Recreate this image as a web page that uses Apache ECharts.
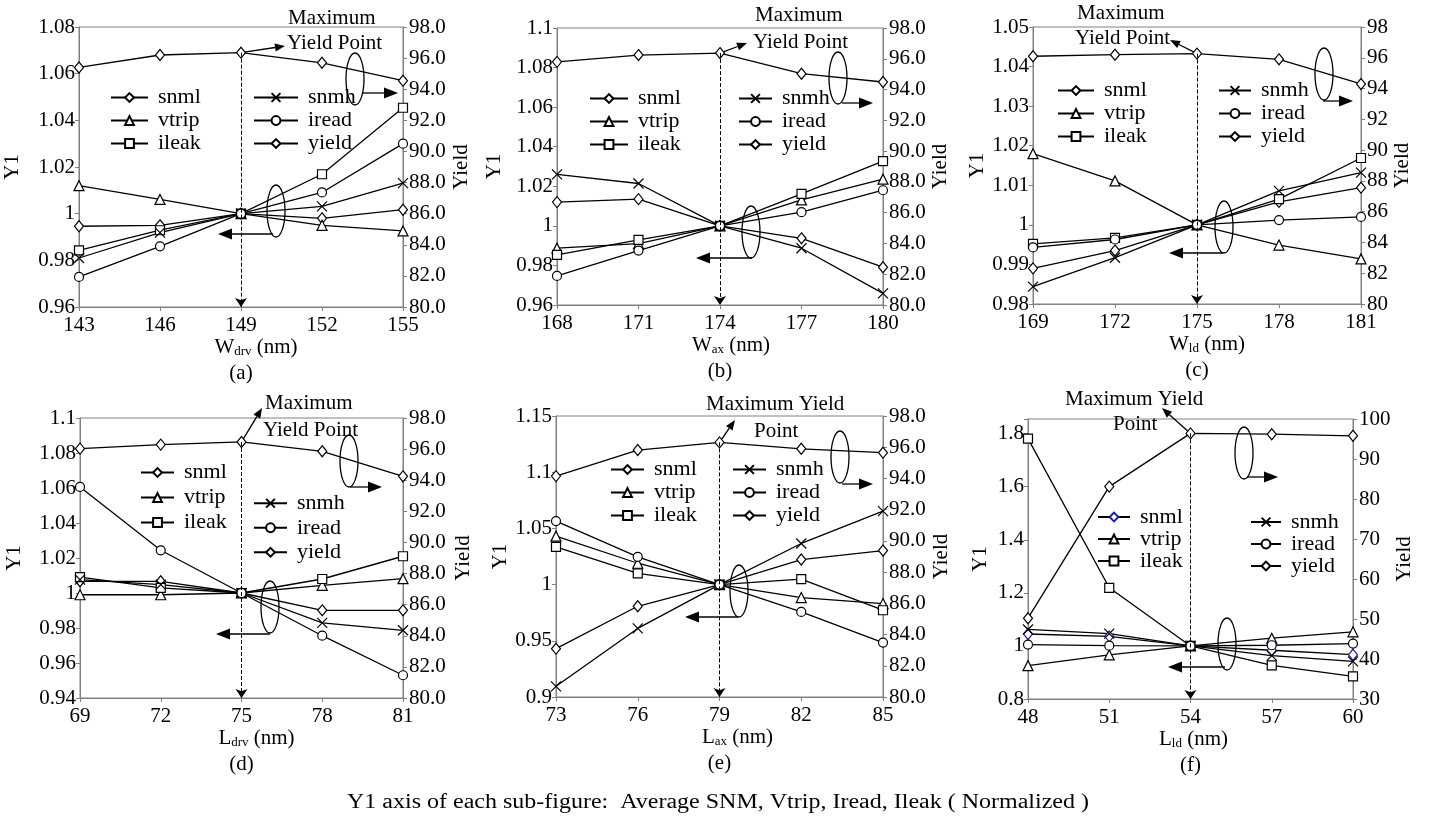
<!DOCTYPE html>
<html>
<head>
<meta charset="utf-8">
<script src="https://cdn.jsdelivr.net/npm/echarts@6/dist/echarts.min.js"></script>
<style>
  html, body { margin: 0; padding: 0; background: #fff; }
  #main { width: 1431px; height: 818px; }
</style>
</head>
<body>
<div id="main"></div>
<script>
// ---- data ----
// (a) W_drv
const xA = [143, 146, 149, 152, 155];
const snmlA = [0.9946, 0.995, 1, 0.998, 1.0017];
const vtripA = [1.012, 1.0061, 1, 0.995, 0.9926];
const ileakA = [0.9843, 0.9929, 1, 1.0169, 1.0454];
const snmhA = [0.981, 0.9919, 1, 1.0031, 1.0131];
const ireadA = [0.9729, 0.986, 1, 1.0091, 1.03];
const yieldA = [95.4, 96.2, 96.35, 95.7, 94.55];
// (b) W_ax
const xB = [168, 171, 174, 177, 180];
const snmlB = [1.012, 1.0135, 1, 0.9937, 0.9791];
const vtripB = [0.9887, 0.991, 1, 1.0131, 1.0236];
const ileakB = [0.9853, 0.9929, 1, 1.0162, 1.0327];
const snmhB = [1.026, 1.0214, 1, 0.9887, 0.9659];
const ireadB = [0.9747, 0.9875, 1, 1.0069, 1.018];
const yieldB = [95.8, 96.24, 96.37, 95.03, 94.49];
// (c) W_ld
const xC = [169, 172, 175, 178, 181];
const snmlC = [0.989, 0.9935, 1, 1.0058, 1.0094];
const vtripC = [1.018, 1.0111, 1, 0.9949, 0.9914];
const ileakC = [0.9952, 0.9967, 1, 1.0065, 1.0169];
const snmhC = [0.9844, 0.9917, 1, 1.0086, 1.0132];
const ireadC = [0.9943, 0.9963, 1, 1.0012, 1.002];
const yieldC = [96.1, 96.2, 96.27, 95.9, 94.3];
// (d) L_drv
const xD = [69, 72, 75, 78, 81];
const snmlD = [1.0067, 1.0067, 1, 0.9901, 0.9901];
const vtripD = [0.999, 0.999, 1, 1.0044, 1.0082];
const ileakD = [1.0091, 1.0029, 1, 1.008, 1.021];
const snmhD = [1.0076, 1.0048, 1, 0.9829, 0.9787];
const ireadD = [1.0606, 1.0244, 1, 0.9756, 0.953];
const yieldD = [96.03, 96.29, 96.46, 95.86, 94.25];
// (e) L_ax
const xE = [73, 76, 79, 82, 85];
const snmlE = [0.943, 0.9807, 1, 1.0223, 1.0303];
const vtripE = [1.0431, 1.019, 1, 0.9885, 0.9831];
const ileakE = [1.0336, 1.01, 1, 1.0048, 0.9772];
const snmhE = [0.9095, 0.961, 1, 1.0366, 1.0654];
const ireadE = [1.0565, 1.0247, 1, 0.9757, 0.9484];
const yieldE = [94.15, 95.82, 96.31, 95.9, 95.65];
// (f) L_ld
const xF = [48, 51, 54, 57, 60];
const snmlF = [1.045, 1.036, 1, 0.9836, 0.967];
const vtripF = [0.9258, 0.966, 1, 1.029, 1.053];
const ileakF = [1.781, 1.219, 1, 0.927, 0.8855];
const snmhF = [1.062, 1.0465, 1, 0.9635, 0.942];
const ireadF = [1.005, 1.001, 1, 1.0025, 1.009];
const yieldF = [50.2, 83.1, 96.4, 96.2, 95.8];

// axis scales: [min, max, interval]
const y1Range = [[0.96, 1.08, 0.02], [0.96, 1.1, 0.02], [0.98, 1.05, 0.01],
                 [0.94, 1.1, 0.02], [0.9, 1.15, 0.05], [0.8, 1.855, 0.2]];
const yieldRange = [[80, 98, 2], [80, 98, 2], [80, 98, 2], [80, 98, 2], [80, 98, 2], [30, 100, 10]];
const yieldDecimals = [1, 1, 0, 1, 1, 0];
const xMain = ['W', 'W', 'W', 'L', 'L', 'L'];
const xSub = ['drv', 'ax', 'ld', 'drv', 'ax', 'ld'];
const tags = ['(a)', '(b)', '(c)', '(d)', '(e)', '(f)'];
const seriesNames = ['snml', 'vtrip', 'ileak', 'snmh', 'iread', 'yield'];

const xVals = [xA, xB, xC, xD, xE, xF];
const panelData = [
    [snmlA, vtripA, ileakA, snmhA, ireadA, yieldA],
    [snmlB, vtripB, ileakB, snmhB, ireadB, yieldB],
    [snmlC, vtripC, ileakC, snmhC, ireadC, yieldC],
    [snmlD, vtripD, ileakD, snmhD, ireadD, yieldD],
    [snmlE, vtripE, ileakE, snmhE, ireadE, yieldE],
    [snmlF, vtripF, ileakF, snmhF, ireadF, yieldF]
];

const FONT = '"Liberation Serif", "DejaVu Serif", serif';
const CROSS = 'path://M0 0L10 10M10 0L0 10';
const BLUE = '#1c1c9c';

// marker look of each series
const marks = {
    snml: {symbol: 'diamond', size: [9, 11]},
    vtrip: {symbol: 'triangle', size: 10},
    ileak: {symbol: 'rect', size: 9},
    snmh: {symbol: CROSS, size: 10},
    iread: {symbol: 'circle', size: 9},
    yield: {symbol: 'diamond', size: [9, 11]}
};

// layout of every panel: grid [left, top, width, height], legends, axis name gaps,
// annotations (offsets from grid origin)
const layout = [
    {grid: [79, 27, 324, 280], nameShift: 30, gapL: 56, gapR: 48,
     legL: [110, 86, 37, 23], legR: [253, 86, 44, 23],
     texts: [['Maximum', 209, -9], ['Yield Point', 208, 16]], tip: [206, 19],
     ellR: [276, 52], arrR: [[283, 66], [319, 66]], ellL: [197, 184], arrL: [[194, 207], [139, 207]]},
    {grid: [557, 28, 326, 277], nameShift: 22, gapL: 52, gapR: 44,
     legL: [589, 87, 38, 23], legR: [738, 87, 33, 23],
     texts: [['Maximum', 198, -13], ['Yield Point', 196, 14]], tip: [190, 15],
     ellR: [281, 50], arrR: [[285, 75], [316, 75]], ellL: [194, 204], arrL: [[195, 230], [139, 230]]},
    {grid: [1033, 27, 328, 277], nameShift: 20, gapL: 44, gapR: 31,
     legL: [1057, 79, 36, 23], legR: [1218, 79, 32, 23],
     texts: [['Maximum', 44, -14], ['Yield Point', 42, 11]], tip: [137, 13],
     ellR: [291, 47], arrR: [[290, 74], [320, 74]], ellL: [191, 200], arrL: [[190, 226], [136, 226]]},
    {grid: [80, 418, 323, 280], nameShift: 30, gapL: 55, gapR: 50,
     legL: [140, 460, 33, 25], legR: [253, 491, 33, 24.5],
     texts: [['Maximum', 185, -15], ['Yield Point', 183, 12]], tip: [182, -10],
     ellR: [269, 43], arrR: [[270, 69], [302, 69]], ellL: [190, 189], arrL: [[190, 216], [136, 216]]},
    {grid: [556, 416, 327, 281], nameShift: 36, gapL: 41, gapR: 48,
     legL: [610, 458, 33, 23], legR: [732, 458, 33, 23],
     texts: [['Maximum Yield', 150, -12], ['Point', 198, 15]], tip: [179, 4],
     ellR: [284, 41], arrR: [[286, 68], [317, 68]], ellL: [183, 175], arrL: [[182, 201], [129, 201]]},
    {grid: [1028, 419, 325, 280], nameShift: 6, gapL: 37, gapR: 36,
     legL: [1097, 506, 32, 21], legR: [1250, 511, 30, 21],
     texts: [['Maximum Yield', 37, -20], ['Point', 85, 5]], tip: [134, -11],
     ellR: [216, 34], arrR: [[219, 58], [250, 58]], ellL: [199, 225], arrL: [[197, 248], [140, 248]]}
];

const grids = [], xAxes = [], yAxes = [], series = [], legends = [];
const axisLine = {lineStyle: {color: '#808080', width: 1}};
const axisTick = {length: 4, lineStyle: {color: '#808080', width: 1}};

layout.forEach(function (L, i) {
    grids.push({left: L.grid[0], top: L.grid[1], width: L.grid[2], height: L.grid[3],
        show: true, borderColor: '#808080', borderWidth: 1});
    const xs = xVals[i];
    xAxes.push({
        type: 'value', gridIndex: i, min: xs[0], max: xs[xs.length - 1], interval: 3,
        axisLine: axisLine, axisTick: axisTick, splitLine: {show: false},
        axisLabel: {color: '#000', fontSize: 21, fontFamily: FONT, margin: 8},
        name: '{m|' + xMain[i] + '}{s|' + xSub[i] + '}{m| (nm)}',
        nameLocation: 'middle', nameGap: 29,
        nameTextStyle: {padding: [0, 0, 0, L.nameShift], rich: {
            m: {fontSize: 21, fontFamily: FONT, color: '#000'},
            s: {fontSize: 13, fontFamily: FONT, color: '#000', verticalAlign: 'bottom'}
        }}
    });
    const r1 = y1Range[i], r2 = yieldRange[i], dec = yieldDecimals[i];
    yAxes.push({
        type: 'value', gridIndex: i, position: 'left', min: r1[0], max: r1[1], interval: r1[2],
        axisLine: Object.assign({show: true}, axisLine), axisTick: axisTick, splitLine: {show: false},
        axisLabel: {color: '#000', fontSize: 21, fontFamily: FONT, margin: 4,
            formatter: function (v) {
                const k = Math.round((v - r1[0]) / r1[2]);
                if (Math.abs(r1[0] + k * r1[2] - v) > 1e-6) return '';
                return String(+v.toFixed(3));
            }},
        name: 'Y1', nameLocation: 'middle', nameGap: L.gapL,
        nameTextStyle: {fontSize: 21, fontFamily: FONT, color: '#000'}
    });
    yAxes.push({
        type: 'value', gridIndex: i, position: 'right', min: r2[0], max: r2[1], interval: r2[2],
        axisLine: Object.assign({show: true}, axisLine), axisTick: axisTick, splitLine: {show: false},
        axisLabel: {color: '#000', fontSize: 21, fontFamily: FONT, margin: 6,
            formatter: function (v) { return v.toFixed(dec); }},
        name: 'Yield', nameLocation: 'middle', nameGap: L.gapR,
        nameTextStyle: {fontSize: 21, fontFamily: FONT, color: '#000'}
    });

    panelData[i].forEach(function (vals, j) {
        const name = seriesNames[j];
        const isYield = name === 'yield';
        const s = {
            type: 'line', name: name, xAxisIndex: i, yAxisIndex: isYield ? 2 * i + 1 : 2 * i,
            data: xs.map(function (x, k) { return [x, vals[k]]; }),
            symbol: marks[name].symbol, symbolSize: marks[name].size, showAllSymbol: true,
            lineStyle: {color: '#000', width: 1.3},
            itemStyle: {color: '#fff', borderColor: (i === 5 && name === 'snml') ? BLUE : '#000', borderWidth: 1.2},
            emphasis: {disabled: true}, silent: true
        };
        if (isYield) {
            const k = vals.indexOf(Math.max.apply(null, vals));
            s.markLine = {
                silent: true, symbol: ['none', 'arrow'], symbolSize: 9,
                lineStyle: {type: 'dashed', color: '#000', width: 1},
                label: {show: false},
                data: [[{coord: [xs[k], vals[k]]}, {coord: [xs[k], r2[0]]}]]
            };
        }
        series.push(s);
    });

    const legText = function (pitch) {
        return {fontSize: 22, fontFamily: FONT, color: '#000', lineHeight: pitch, padding: [0, 0, 0, 5]};
    };
    const leftData = ['snml', 'vtrip', 'ileak'];
    if (i === 5) leftData[0] = {name: 'snml', itemStyle: {borderColor: BLUE}};
    legends.push({orient: 'vertical', left: L.legL[0], top: L.legL[1], itemWidth: L.legL[2], itemHeight: 11,
        itemGap: 0, padding: 0, selectedMode: false, data: leftData, textStyle: legText(L.legL[3])});
    legends.push({orient: 'vertical', left: L.legR[0], top: L.legR[1], itemWidth: L.legR[2], itemHeight: 11,
        itemGap: 0, padding: 0, selectedMode: false, data: ['snmh', 'iread', 'yield'], textStyle: legText(L.legR[3])});
});

const chart = echarts.init(document.getElementById('main'));
chart.setOption({
    animation: false,
    backgroundColor: '#fff',
    grid: grids,
    xAxis: xAxes,
    yAxis: yAxes,
    legend: legends,
    series: series
});

// annotations: ellipses, arrows, texts
function arrow(g, x1, y1, x2, y2, len, wid) {
    const a = Math.atan2(y2 - y1, x2 - x1);
    const bx = x2 - len * Math.cos(a), by = y2 - len * Math.sin(a);
    const nx = -Math.sin(a) * wid / 2, ny = Math.cos(a) * wid / 2;
    g.push({type: 'line', silent: true, shape: {x1: x1, y1: y1, x2: bx, y2: by},
        style: {stroke: '#000', lineWidth: 1.3}});
    g.push({type: 'polygon', silent: true, shape: {points: [[x2, y2], [bx + nx, by + ny], [bx - nx, by - ny]]},
        style: {fill: '#000'}});
}
function ellipse(g, cx, cy) {
    g.push({type: 'ellipse', silent: true, shape: {cx: cx, cy: cy, rx: 9, ry: 26},
        style: {fill: 'none', stroke: '#000', lineWidth: 1.3}});
}
function label(g, text, x, y, size, align, sx) {
    g.push({type: 'text', silent: true, x: x, y: y, scaleX: sx || 1,
        style: {text: text, font: size + 'px ' + FONT, fill: '#000', textAlign: align, textVerticalAlign: 'middle'}});
}

const g = [];
layout.forEach(function (L, i) {
    const ox = L.grid[0], oy = L.grid[1];
    const ys = panelData[i][5];
    const k = ys.indexOf(Math.max.apply(null, ys));
    const p = chart.convertToPixel({xAxisIndex: i, yAxisIndex: 2 * i + 1}, [xVals[i][k], ys[k]]);
    arrow(g, p[0], p[1], ox + L.tip[0], oy + L.tip[1], 10, 8);
    L.texts.forEach(function (t) { label(g, t[0], ox + t[1], oy + t[2], 21, 'left'); });
    ellipse(g, ox + L.ellR[0], oy + L.ellR[1]);
    arrow(g, ox + L.arrR[0][0], oy + L.arrR[0][1], ox + L.arrR[1][0], oy + L.arrR[1][1], 14, 11);
    ellipse(g, ox + L.ellL[0], oy + L.ellL[1]);
    arrow(g, ox + L.arrL[0][0], oy + L.arrL[0][1], ox + L.arrL[1][0], oy + L.arrL[1][1], 14, 11);
    label(g, tags[i], ox + L.grid[2] / 2, oy + L.grid[3] + 66, 21, 'center');
});
label(g, 'Y1 axis of each sub-figure:  Average SNM, Vtrip, Iread, Ileak ( Normalized )', 718, 803, 20, 'center', 1.2);
chart.setOption({graphic: g});
</script>
</body>
</html>
